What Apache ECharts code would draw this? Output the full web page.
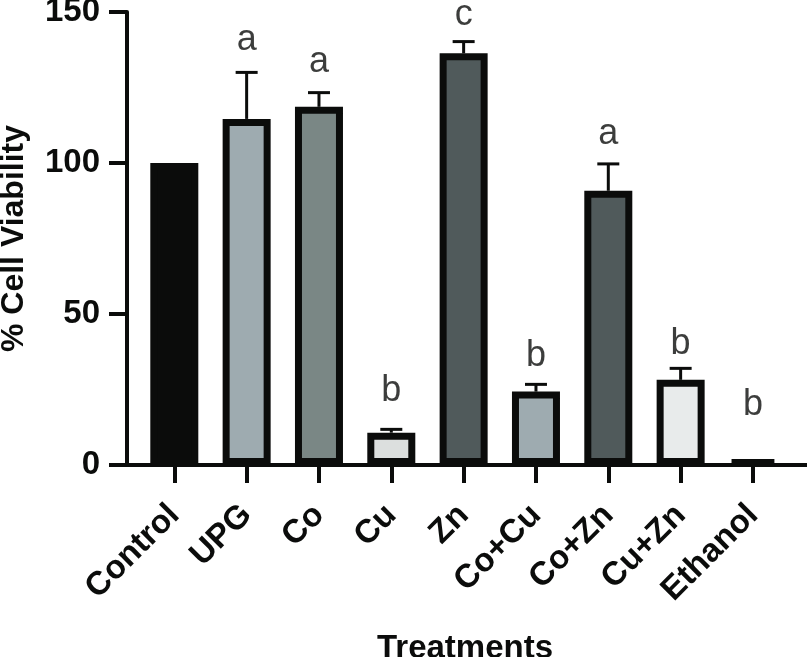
<!DOCTYPE html>
<html>
<head>
<meta charset="utf-8">
<script src="https://cdn.jsdelivr.net/npm/echarts@6/dist/echarts.min.js"></script>
<style>
html,body{margin:0;padding:0;background:#fff;}
#chart{width:807px;height:657px;}
</style>
</head>
<body>
<div id="chart"></div>
<script>
const categories = ['Control','UPG','Co','Cu','Zn','Co+Cu','Co+Zn','Cu+Zn','Ethanol'];
const values     = [100, 114.6, 118.6, 10.7, 136.3, 24.3, 90.8, 28.2, 1.7];
const errorTops  = [null, 130.0, 123.3, 11.8, 140.2, 26.7, 99.7, 32.0, null];
const letters    = ['', 'a', 'a', 'b', 'c', 'b', 'a', 'b', 'b'];
const letterLevels = [null, 136.8, 129.5, 20.5, 145, 32.0, 105.7, 36.1, 16.0];
const fills = ['#0b0c0b','#9eabb0','#7a8785','#dcdfde','#505a5b','#9eabb0','#505a5b','#e8ebeb','#0b0c0b'];
const yTicks = [0, 50, 100, 150];

const INK = '#0b0c0b';
const FONT = '"Liberation Sans", Arial, Helvetica, sans-serif';
const idx = categories.map((c, i) => i);

const chart = echarts.init(document.getElementById('chart'));
chart.setOption({
  animation: false,
  backgroundColor: '#ffffff',
  grid: { left: 127, right: 0, top: 12, bottom: 192, containLabel: false, outerBoundsMode: 'none' },
  xAxis: {
    type: 'value',
    min: -0.654,
    max: 8.747,
    name: 'Treatments',
    nameLocation: 'middle',
    nameGap: 167,
    nameTextStyle: { fontFamily: FONT, fontWeight: 'bold', fontSize: 33, color: INK, padding: [0, 4, 0, 0] },
    axisLine: { show: true, onZero: false, lineStyle: { color: INK, width: 4 } },
    axisTick: { show: true, customValues: idx, length: 18, lineStyle: { color: INK, width: 4 } },
    axisLabel: {
      customValues: idx,
      formatter: v => categories[Math.round(v)],
      rotate: 45,
      margin: 45,
      fontFamily: FONT, fontWeight: 'bold', fontSize: 33, color: INK
    },
    splitLine: { show: false }
  },
  yAxis: {
    type: 'value',
    min: 0, max: 150, interval: 50,
    name: '% Cell Viability',
    nameLocation: 'middle',
    nameGap: 97,
    nameTextStyle: { fontFamily: FONT, fontWeight: 'bold', fontSize: 32, color: INK },
    axisLine: { show: true, onZero: false, lineStyle: { color: INK, width: 4 } },
    axisTick: { show: true, length: 18, lineStyle: { color: INK, width: 4 } },
    axisLabel: { margin: 27, fontFamily: FONT, fontWeight: 'bold', fontSize: 33, color: INK,
      formatter: v => yTicks.includes(v) ? String(v) : '' },
    splitLine: { show: false }
  },
  series: [
    {
      type: 'custom',
      z: 1,
      data: idx.filter(i => errorTops[i] != null).map(i => [i, values[i], errorTops[i]]),
      renderItem: function (params, api) {
        const p0 = api.coord([api.value(0), api.value(1)]);
        const p1 = api.coord([api.value(0), api.value(2)]);
        const style = { stroke: INK, lineWidth: 3 };
        return {
          type: 'group',
          children: [
            { type: 'line', shape: { x1: p0[0], y1: p0[1], x2: p1[0], y2: p1[1] }, style: style },
            { type: 'line', shape: { x1: p1[0] - 11, y1: p1[1], x2: p1[0] + 11, y2: p1[1] }, style: style }
          ]
        };
      }
    },
    {
      type: 'bar',
      z: 3,
      barWidth: 48,
      data: idx.map(i => ({
        value: [i, values[i]],
        itemStyle: { color: fills[i], borderColor: INK, borderWidth: 7 }
      }))
    },
    {
      type: 'scatter',
      z: 4,
      symbolSize: 0,
      data: idx.filter(i => letters[i]).map(i => ({ value: [i, letterLevels[i]], name: letters[i] })),
      label: {
        show: true,
        position: 'top',
        distance: -6,
        formatter: p => p.name,
        fontFamily: FONT, fontSize: 36, color: INK
      }
    }
  ]
});
</script>
</body>
</html>
